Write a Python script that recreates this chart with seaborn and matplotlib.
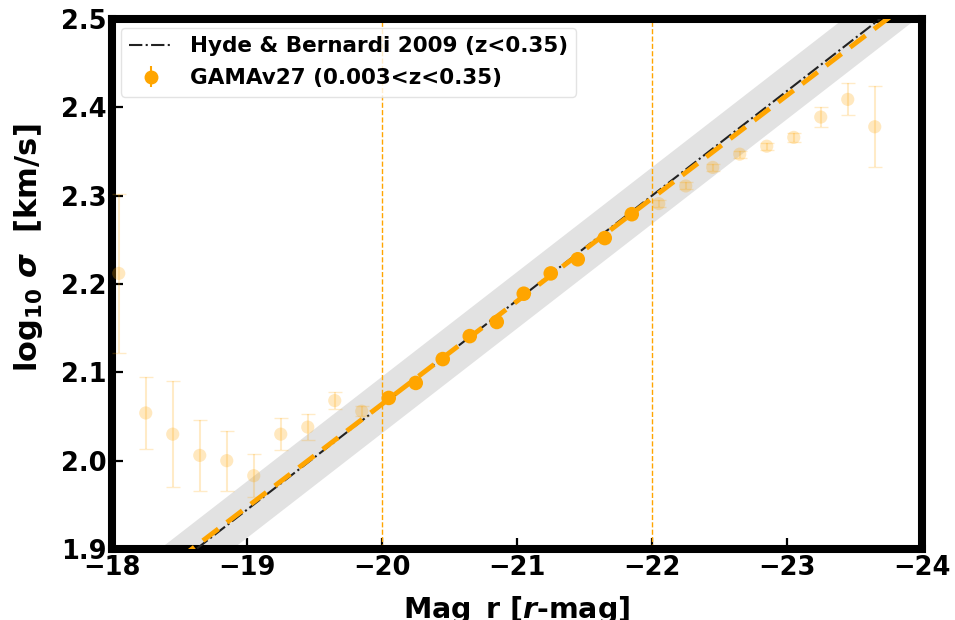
import numpy as np
import pandas as pd
import matplotlib
matplotlib.use("Agg")
import matplotlib.pyplot as plt
import seaborn as sns
from matplotlib.lines import Line2D

# ---- data ----
mag_faint = [-18.05, -18.25, -18.45, -18.65, -18.85, -19.05, -19.25, -19.45, -19.65, -19.85]
sig_faint = [2.212, 2.054, 2.030, 2.006, 2.000, 1.983, 2.030, 2.038, 2.068, 2.056]
err_faint = [0.090, 0.041, 0.060, 0.040, 0.034, 0.024, 0.018, 0.015, 0.010, 0.006]

mag_fit = [-20.05, -20.25, -20.45, -20.65, -20.85, -21.05, -21.25, -21.45, -21.65, -21.85]
sig_fit = [2.071, 2.088, 2.115, 2.141, 2.157, 2.189, 2.212, 2.228, 2.252, 2.279]
err_fit = [0.004, 0.004, 0.003, 0.003, 0.003, 0.003, 0.003, 0.003, 0.004, 0.004]

mag_bright = [-22.05, -22.25, -22.45, -22.65, -22.85, -23.05, -23.25, -23.45, -23.65]
sig_bright = [2.291, 2.311, 2.332, 2.347, 2.356, 2.366, 2.389, 2.409, 2.378]
err_bright = [0.004, 0.004, 0.004, 0.004, 0.004, 0.005, 0.011, 0.018, 0.046]

# Hyde & Bernardi 2009 relation and GAMA fit (line parameters: value at M=-20, slope per mag)
hb_at_m20, hb_slope, hb_scatter = 2.063, -0.1185, 0.032
gama_at_m20, gama_slope = 2.064, -0.1165
mag_cuts = [-20, -22]

xticks = [-18, -19, -20, -21, -22, -23, -24]
yticks = [1.9, 2.0, 2.1, 2.2, 2.3, 2.4, 2.5]

ORANGE = "#FFA500"

sns.set_style("white")
plt.rcParams["font.family"] = ["DejaVu Sans"]
plt.rcParams["font.weight"] = "bold"
plt.rcParams["mathtext.fontset"] = "dejavusans"
plt.rcParams["mathtext.default"] = "bf"
for k in ["text.color", "axes.labelcolor", "xtick.color", "ytick.color"]:
    plt.rcParams[k] = "black"

fig = plt.figure(figsize=(9.55, 6.2), dpi=100)
ax = fig.add_axes([112 / 955, 1 - 549 / 620, 810 / 955, 530 / 620])

mgrid = np.linspace(-17.5, -24.5, 200)
hb_line = hb_at_m20 + hb_slope * (mgrid + 20)
gama_line = gama_at_m20 + gama_slope * (mgrid + 20)
df = pd.DataFrame({"mag": mgrid, "hb": hb_line, "gama": gama_line})

ax.fill_between(mgrid, hb_line - hb_scatter, hb_line + hb_scatter,
                color="#e2e2e2", lw=0, zorder=1)
for mc in mag_cuts:
    ax.axvline(mc, color=ORANGE, ls="--", lw=1, zorder=2)

sns.lineplot(data=df, x="mag", y="hb", ax=ax, color="#222222", lw=1.5,
             linestyle="-.", zorder=3, legend=False)
sns.lineplot(data=df, x="mag", y="gama", ax=ax, color=ORANGE, lw=3.5,
             linestyle=(0, (4, 2.2)), zorder=4, legend=False)

for m, s, e in [(mag_faint, sig_faint, err_faint), (mag_bright, sig_bright, err_bright)]:
    ax.errorbar(m, s, yerr=e, fmt="none", ecolor=ORANGE, alpha=0.22,
                capsize=5, elinewidth=1.5, zorder=5)
    sns.scatterplot(x=m, y=s, ax=ax, color=ORANGE, alpha=0.25, s=90,
                    edgecolor="none", zorder=5, legend=False)

ax.errorbar(mag_fit, sig_fit, yerr=err_fit, fmt="none", ecolor=ORANGE,
            capsize=3, elinewidth=1.5, zorder=6)
sns.scatterplot(x=mag_fit, y=sig_fit, ax=ax, color=ORANGE, s=110,
                edgecolor="none", zorder=6, legend=False)

ax.set_xlim(-18, -24)
ax.set_ylim(1.9, 2.5)
ax.set_xticks(xticks)
ax.set_yticks(yticks)
ax.set_xticklabels([f"\u2212{abs(t)}" for t in xticks])
ax.set_yticklabels([f"{t:.1f}" for t in yticks])

for sp in ax.spines.values():
    sp.set_linewidth(5.8)
    sp.set_color("black")
ax.tick_params(axis="both", direction="in", length=8, width=1.6, pad=4,
               labelsize=18.5, colors="black", top=False, right=False,
               left=True, bottom=True)
for lab in ax.get_xticklabels() + ax.get_yticklabels():
    lab.set_fontweight("bold")

ax.set_xlabel(r"Mag_r [$\boldsymbol{r}$-mag]", fontsize=20.5, fontweight="bold",
              labelpad=10, color="black")
ax.set_ylabel(r"log$_{10}$ $\boldsymbol{\sigma}$  [km/s]", fontsize=22,
              fontweight="bold", color="black")
ax.yaxis.set_label_coords(-0.083, 0.568)

hb_handle = Line2D([], [], color="#222222", lw=1.5, linestyle="-.")
gama_handle = ax.errorbar([], [], yerr=[], fmt="o", color=ORANGE, ms=9, capsize=5)
leg = ax.legend([hb_handle, gama_handle],
                ["Hyde & Bernardi 2009 (z<0.35)", "GAMAv27 (0.003<z<0.35)"],
                loc="upper left", frameon=True, fancybox=True,
                borderaxespad=0.4, handlelength=2.0, labelspacing=0.55,
                prop={"weight": "bold", "size": 15.5})
for t in leg.get_texts():
    t.set_color("black")
leg.get_frame().set_edgecolor("#dddddd")
leg.get_frame().set_linewidth(1.0)

fig.savefig("out.png", dpi=100)
